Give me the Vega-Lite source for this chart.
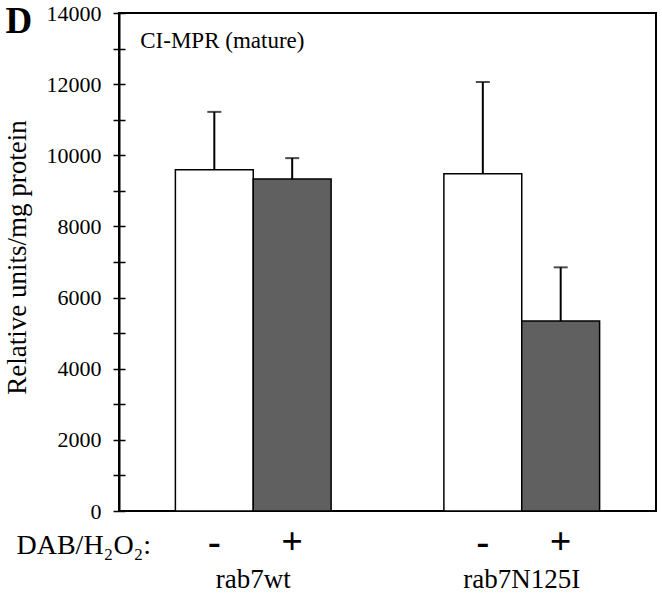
{
  "$schema": "https://vega.github.io/schema/vega-lite/v6.json",
  "width": 537,
  "height": 498,
  "autosize": "none",
  "padding": {"left": 119, "top": 13, "right": 6, "bottom": 82},
  "background": "white",
  "config": {
    "font": "Liberation Serif",
    "view": {"stroke": "black", "strokeWidth": 2},
    "axis": {"labelFont": "Liberation Serif", "titleFont": "Liberation Serif", "labelColor": "black", "titleColor": "black", "domainColor": "black", "tickColor": "black", "grid": false},
    "text": {"font": "Liberation Serif"}
  },
  "data": {
    "values": [
      {"group": "rab7wt", "dab": "-", "value": 9590, "upper": 11220},
      {"group": "rab7wt", "dab": "+", "value": 9330, "upper": 9920},
      {"group": "rab7N125I", "dab": "-", "value": 9480, "upper": 12060},
      {"group": "rab7N125I", "dab": "+", "value": 5340, "upper": 6850}
    ]
  },
  "layer": [
    {
      "mark": {"type": "bar", "stroke": "black", "strokeWidth": 1.5},
      "encoding": {
        "x": {
          "field": "group",
          "type": "nominal",
          "sort": ["rab7wt", "rab7N125I"],
          "scale": {"paddingInner": 0.42, "paddingOuter": 0.21},
          "axis": {
            "orient": "bottom",
            "domain": false,
            "ticks": false,
            "tickSize": 0,
            "labelAngle": 0,
            "labelFont": "Liberation Serif",
            "labelFontSize": 27,
            "labelBaseline": "alphabetic",
            "labelPadding": 76,
            "title": "DAB/H₂O₂:",
            "titleFont": "Liberation Serif",
            "titleX": -103,
            "titleY": 42,
            "titleAlign": "left",
            "titleAnchor": "start",
            "titleBaseline": "alphabetic",
            "titleFontSize": 28,
            "titleFontWeight": "normal"
          }
        },
        "xOffset": {"field": "dab", "type": "nominal", "sort": ["-", "+"], "scale": {"paddingInner": 0, "paddingOuter": 0}},
        "y": {
          "field": "value",
          "type": "quantitative",
          "scale": {"domain": [0, 14000], "nice": false},
          "axis": {
            "orient": "left",
            "values": [0, 1000, 2000, 3000, 4000, 5000, 6000, 7000, 8000, 9000, 10000, 11000, 12000, 13000, 14000],
            "labelExpr": "datum.value % 2000 == 0 ? format(datum.value, 'd') : ''",
            "tickSize": 6,
            "tickWidth": 1.5,
            "domainWidth": 2,
            "labelFont": "Liberation Serif",
            "labelFontSize": 22,
            "labelPadding": 12,
            "title": "Relative units/mg protein",
            "titleFont": "Liberation Serif",
            "titleFontSize": 27,
            "titleFontWeight": "normal",
            "titleX": -102,
            "titleY": 244,
            "titleAngle": -90,
            "titleAlign": "center",
            "titleBaseline": "middle"
          }
        },
        "fill": {
          "field": "dab",
          "type": "nominal",
          "scale": {"domain": ["-", "+"], "range": ["white", "#606060"]},
          "legend": null
        }
      }
    },
    {
      "mark": {"type": "rule", "strokeWidth": 2, "color": "black"},
      "encoding": {
        "x": {"field": "group", "type": "nominal", "sort": ["rab7wt", "rab7N125I"]},
        "xOffset": {"field": "dab", "type": "nominal", "sort": ["-", "+"]},
        "y": {
          "field": "value",
          "type": "quantitative",
          "axis": {
            "orient": "left",
            "values": [0, 1000, 2000, 3000, 4000, 5000, 6000, 7000, 8000, 9000, 10000, 11000, 12000, 13000, 14000],
            "labels": false,
            "domain": false,
            "tickSize": -6,
            "tickWidth": 1.5,
            "title": "D",
            "titleFont": "Liberation Serif",
            "titleX": -114,
            "titleY": 19,
            "titleAngle": 0,
            "titleAlign": "left",
            "titleBaseline": "alphabetic",
            "titleFontSize": 37,
            "titleFontWeight": "bold"
          }
        },
        "y2": {"field": "upper"}
      }
    },
    {
      "mark": {"type": "tick", "orient": "horizontal", "size": 14, "thickness": 2, "color": "black"},
      "encoding": {
        "x": {"field": "group", "type": "nominal", "sort": ["rab7wt", "rab7N125I"]},
        "xOffset": {"field": "dab", "type": "nominal", "sort": ["-", "+"]},
        "y": {"field": "upper", "type": "quantitative", "axis": null}
      }
    },
    {
      "mark": {"type": "text", "font": "Liberation Serif", "fontSize": 38, "fontWeight": "bold", "dy": 43, "baseline": "alphabetic", "color": "black"},
      "encoding": {
        "x": {"field": "group", "type": "nominal", "sort": ["rab7wt", "rab7N125I"]},
        "xOffset": {"field": "dab", "type": "nominal", "sort": ["-", "+"]},
        "y": {"datum": 0, "type": "quantitative", "axis": null},
        "text": {"field": "dab"}
      }
    },
    {
      "data": {"values": [{"label": "CI-MPR (mature)"}]},
      "mark": {"type": "text", "font": "Liberation Serif", "fontSize": 23, "align": "left", "baseline": "alphabetic", "dx": -113, "dy": 35, "color": "black"},
      "encoding": {
        "x": {"datum": "rab7wt", "type": "nominal"},
        "y": {"datum": 14000, "type": "quantitative", "axis": null},
        "text": {"field": "label"}
      }
    }
  ],
  "resolve": {"axis": {"y": "independent"}}
}
